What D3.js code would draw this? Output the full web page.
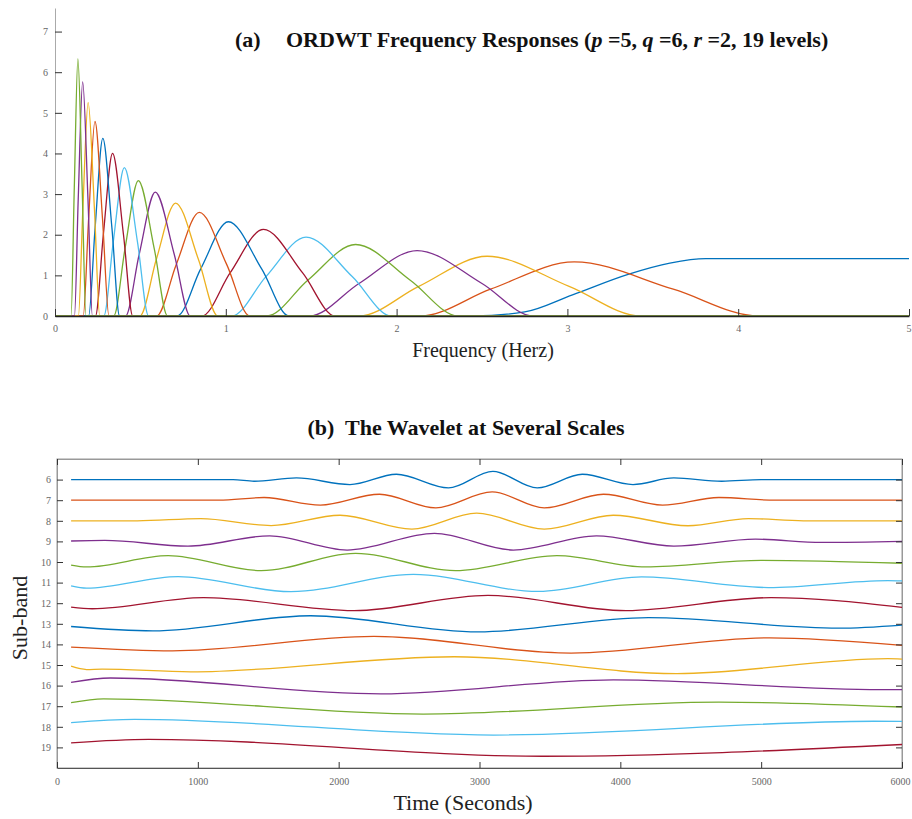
<!DOCTYPE html>
<html>
<head>
<meta charset="utf-8">
<script src="https://d3js.org/d3.v7.min.js"></script>
<style>
  body { margin: 0; background: #fff; }
  svg { display: block; font-family: "Liberation Serif", "Times New Roman", serif; }
  .tick text { fill: #666; font-size: 10px; font-family: "Liberation Serif", "Times New Roman", serif; }
  .tick line { stroke: #333; }
  path.trace { fill: none; stroke-width: 1.3; }
</style>
</head>
<body>
<svg id="chart" width="912" height="819"></svg>
<script>
// MATLAB default colour order
const lineColors = ["#0072BD", "#D95319", "#EDB120", "#7E2F8E", "#77AC30", "#4DBEEE", "#A2142F"];

// ---- (a) frequency responses, band-pass levels listed from highest frequency down ----
const bandPeakFreq = [3.04, 2.53, 2.12, 1.76, 1.47, 1.22, 1.015, 0.845, 0.706, 0.587, 0.488, 0.406, 0.337, 0.28, 0.234, 0.194, 0.162, 0.134];
const bandPeakGain = [1.33, 1.47, 1.61, 1.76, 1.94, 2.13, 2.32, 2.55, 2.78, 3.05, 3.33, 3.65, 4.0, 4.37, 4.79, 5.25, 5.76, 6.33];
const bandHalfGain = [0.66, 0.73, 0.8, 0.88, 0.97, 1.06, 1.16, 1.27, 1.39, 1.52, 1.66, 1.82, 2.0, 2.18, 2.4, 2.62, 2.88, 3.16];
const bandFootLo = [2.14, 1.78, 1.49, 1.24, 1.035, 0.86, 0.715, 0.595, 0.497, 0.413, 0.344, 0.286, 0.237, 0.197, 0.165, 0.137, 0.114, 0.094];
const bandHalfLo = [2.55, 2.13, 1.78, 1.48, 1.235, 1.025, 0.853, 0.71, 0.593, 0.493, 0.41, 0.341, 0.283, 0.235, 0.197, 0.163, 0.136, 0.113];
const bandHalfHi = [3.62, 3.01, 2.5, 2.08, 1.74, 1.45, 1.21, 1.005, 0.84, 0.698, 0.581, 0.483, 0.401, 0.333, 0.278, 0.231, 0.193, 0.159];
const bandFootHi = [4.12, 3.43, 2.8, 2.36, 1.97, 1.64, 1.37, 1.14, 0.953, 0.792, 0.659, 0.548, 0.455, 0.378, 0.316, 0.262, 0.219, 0.181];
// high-pass (first level) response
const hpFreq = [0, 2.45, 2.75, 3.03, 3.36, 3.6, 3.81, 5];
const hpGain = [0, 0, 0.1, 0.52, 1.03, 1.3, 1.41, 1.41];
const freqTicks = [0, 1, 2, 3, 4, 5];
const gainTicks = [0, 1, 2, 3, 4, 5, 6, 7];

// ---- (b) wavelet at several scales: [time, offset above sub-band line] ----
const subBands = [6, 7, 8, 9, 10, 11, 12, 13, 14, 15, 16, 17, 18, 19];
const wave6 = [[100, 0], [1250, 0], [1400, -0.08], [1700, 0.08], [2080, -0.24], [2410, 0.26], [2780, -0.4], [3095, 0.4], [3410, -0.4], [3730, 0.26], [4090, -0.24], [4380, 0.08], [4720, -0.08], [5000, 0], [6000, 0]];
const wave7 = [[100, 0], [1150, 0], [1470, 0.13], [1870, -0.24], [2290, 0.29], [2690, -0.37], [3090, 0.4], [3460, -0.37], [3880, 0.29], [4300, -0.24], [4700, 0.13], [5100, 0], [6000, 0]];
const wave8 = [[100, 0], [570, 0], [1020, 0.11], [1520, -0.23], [2010, 0.27], [2520, -0.4], [2980, 0.37], [3460, -0.4], [3950, 0.27], [4480, -0.24], [4910, 0.11], [5300, 0], [6000, 0]];
const wave9 = [[100, 0.02], [340, 0.05], [930, -0.23], [1510, 0.27], [2060, -0.42], [2680, 0.39], [3240, -0.42], [3830, 0.27], [4380, -0.23], [4960, 0.11], [5430, -0.05], [6000, 0]];
const wave10 = [[100, -0.15], [210, -0.24], [790, 0.31], [1450, -0.42], [2120, 0.42], [2830, -0.42], [3550, 0.31], [4180, -0.24], [5000, 0.08], [6000, -0.06]];
const wave11 = [[100, -0.16], [210, -0.27], [860, 0.29], [1660, -0.44], [2530, 0.4], [3420, -0.43], [4150, 0.28], [5050, -0.24], [5900, 0.1], [6000, 0.08]];
const wave12 = [[100, -0.19], [250, -0.27], [1040, 0.27], [2110, -0.36], [3060, 0.38], [4040, -0.36], [5070, 0.27], [6000, -0.2]];
const wave13 = [[100, -0.13], [680, -0.34], [1800, 0.39], [2990, -0.39], [4200, 0.3], [5550, -0.21], [6000, -0.06]];
const wave14 = [[100, -0.13], [820, -0.31], [2250, 0.39], [3650, -0.42], [5060, 0.32], [6000, -0.05]];
const wave15 = [[100, -0.06], [210, -0.22], [320, -0.2], [950, -0.33], [2820, 0.4], [4400, -0.42], [5900, 0.31], [6000, 0.29]];
const wave16 = [[100, 0.16], [380, 0.37], [2300, -0.4], [3950, 0.28], [5850, -0.2], [6000, -0.2]];
const wave17 = [[100, 0.17], [330, 0.36], [2600, -0.38], [4700, 0.2], [6000, -0.04]];
const wave18 = [[100, 0.2], [550, 0.36], [3100, -0.4], [5800, 0.27], [6000, 0.26]];
const wave19 = [[100, 0.22], [650, 0.39], [3450, -0.43], [6000, 0.14]];
const waveBands = [wave6, wave7, wave8, wave9, wave10, wave11, wave12, wave13, wave14, wave15, wave16, wave17, wave18, wave19];
const timeTicks = [0, 1000, 2000, 3000, 4000, 5000, 6000];

const svg = d3.select("#chart");
const plain = d3.format("d");

// ================= panel (a) =================
const xA = d3.scaleLinear().domain([0, 5]).range([55, 909]);
const yA = d3.scaleLinear().domain([0, 7.58]).range([316, 8]);
const lineA = d3.line().x(d => xA(d[0])).y(d => yA(d[1])).curve(d3.curveMonotoneX);

const gA = svg.append("g");

// high-pass curve drawn first
gA.append("path")
  .attr("class", "trace")
  .attr("stroke", lineColors[0])
  .attr("d", lineA(hpFreq.map((f, i) => [f, hpGain[i]])));

bandPeakFreq.forEach((pk, i) => {
  const pts = [
    [0, 0],
    [bandFootLo[i], 0],
    [bandHalfLo[i], bandHalfGain[i]],
    [pk, bandPeakGain[i]],
    [bandHalfHi[i], bandHalfGain[i]],
    [bandFootHi[i], 0],
    [5, 0]
  ];
  gA.append("path")
    .attr("class", "trace")
    .attr("stroke", lineColors[(i + 1) % 7])
    .attr("d", lineA(pts));
});

// left axis (grey line, inward ticks)
const axA_left = gA.append("g")
  .attr("transform", `translate(${xA(0)},0)`)
  .call(d3.axisLeft(yA).tickValues(gainTicks).tickFormat(plain).tickSize(-7).tickSizeOuter(0).tickPadding(7));
axA_left.select(".domain").attr("stroke", "#aaa");

// bottom axis (dark line, ticks point up)
const axA_bottom = gA.append("g")
  .attr("transform", `translate(0,${yA(0)})`)
  .call(d3.axisBottom(xA).tickValues(freqTicks).tickFormat(plain).tickSize(-7).tickSizeOuter(0).tickPadding(9));
axA_bottom.select(".domain").attr("stroke", "#222").attr("stroke-width", 1.4);
axA_bottom.selectAll(".tick text").filter(d => d === 5).attr("text-anchor", "end").attr("dx", 2);

// title (a)
const tA = svg.append("text").attr("x", 235).attr("y", 47)
  .attr("font-size", 22).attr("font-weight", "bold").attr("fill", "#111");
tA.append("tspan").text("(a)");
tA.append("tspan").attr("x", 286).text("ORDWT Frequency Responses (");
tA.append("tspan").attr("font-style", "italic").text("p");
tA.append("tspan").text(" =5, ");
tA.append("tspan").attr("font-style", "italic").text("q");
tA.append("tspan").text(" =6, ");
tA.append("tspan").attr("font-style", "italic").text("r");
tA.append("tspan").text(" =2, 19 levels)");

svg.append("text").attr("x", 483).attr("y", 357)
  .attr("text-anchor", "middle").attr("font-size", 20).attr("fill", "#222")
  .text("Frequency (Herz)");

// ================= panel (b) =================
const xB = d3.scaleLinear().domain([0, 6000]).range([57, 902]);
const yB = d3.scaleLinear().domain([5, 20]).range([459, 768]);
const gB = svg.append("g");

gB.append("rect")
  .attr("x", xB(0)).attr("y", yB(5))
  .attr("width", xB(6000) - xB(0)).attr("height", yB(20) - yB(5))
  .attr("fill", "none").attr("stroke", "#999");

const lineB = d3.line().curve(d3.curveMonotoneX);
waveBands.forEach((pts, i) => {
  const band = subBands[i];
  gB.append("path")
    .attr("class", "trace")
    .attr("stroke", lineColors[i % 7])
    .attr("d", lineB(pts.map(d => [xB(d[0]), yB(band - d[1])])));
});

const axB_left = gB.append("g").attr("transform", `translate(${xB(0)},0)`)
  .call(d3.axisLeft(yB).tickValues(subBands).tickFormat(plain).tickSize(-6).tickSizeOuter(0).tickPadding(6));
const axB_right = gB.append("g").attr("transform", `translate(${xB(6000)},0)`)
  .call(d3.axisRight(yB).tickValues(subBands).tickSize(-6).tickSizeOuter(0).tickFormat(""));
const axB_bottom = gB.append("g").attr("transform", `translate(0,${yB(20)})`)
  .call(d3.axisBottom(xB).tickValues(timeTicks).tickFormat(plain).tickSize(-6).tickSizeOuter(0).tickPadding(10));
const axB_top = gB.append("g").attr("transform", `translate(0,${yB(5)})`)
  .call(d3.axisTop(xB).tickValues(timeTicks).tickSize(-6).tickSizeOuter(0).tickFormat(""));
[axB_left, axB_right, axB_bottom, axB_top].forEach(a => a.select(".domain").attr("stroke", "#999"));
axB_bottom.select(".domain").attr("stroke", "#555");
axB_bottom.selectAll(".tick text").filter(d => d === 6000).attr("text-anchor", "end").attr("dx", 8);

svg.append("text").attr("x", 466).attr("y", 435)
  .attr("text-anchor", "middle").attr("font-size", 22).attr("font-weight", "bold").attr("fill", "#111")
  .attr("xml:space", "preserve")
  .text("(b)  The Wavelet at Several Scales");

svg.append("text").attr("x", 463).attr("y", 810)
  .attr("text-anchor", "middle").attr("font-size", 22).attr("fill", "#222")
  .text("Time (Seconds)");

svg.append("text")
  .attr("transform", "translate(27,618) rotate(-90)")
  .attr("text-anchor", "middle").attr("font-size", 22).attr("fill", "#222")
  .text("Sub-band");
</script>
</body>
</html>
